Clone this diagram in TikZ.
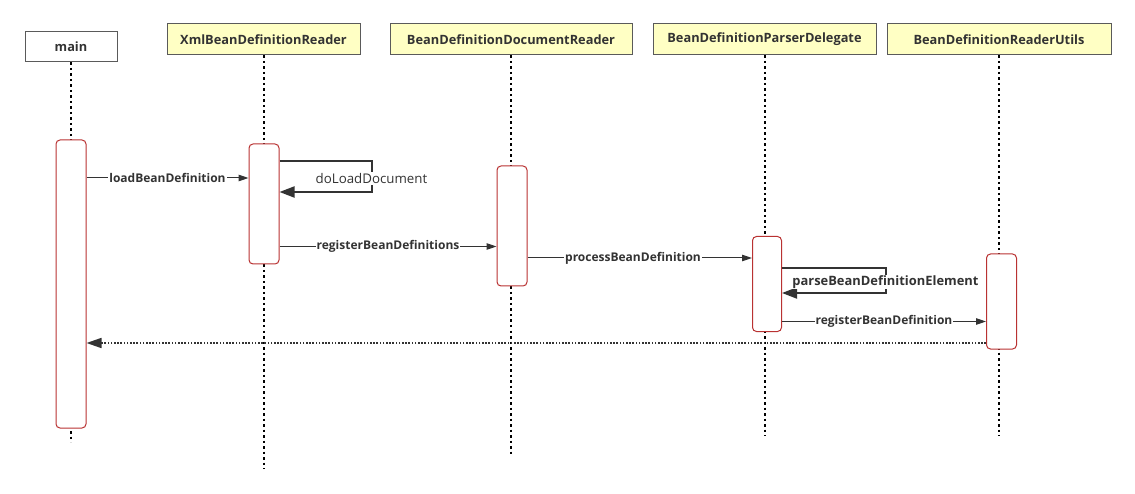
\documentclass[tikz,border=0pt]{standalone}
\usepackage{fontspec}
\setmainfont{Open Sans}
\usetikzlibrary{arrows.meta}
\definecolor{txt}{RGB}{51,51,51}
\definecolor{hdrfill}{RGB}{255,255,196}
\definecolor{hdrline}{RGB}{90,90,90}
\definecolor{actline}{RGB}{185,50,50}
\begin{document}
\begin{tikzpicture}[x=1pt,y=-1pt,
  hdr/.style={draw=hdrline, line width=1pt, fill=hdrfill, minimum height=31pt, inner sep=0pt,
    font=\fontsize{12.8}{14}\selectfont\bfseries, text=txt},
  act/.style={draw=actline, line width=1pt, fill=white, rounded corners=4pt, minimum width=30pt, inner sep=0pt},
  life/.style={draw=black, line width=2pt, dash pattern=on 2.5pt off 3pt},
  msg/.style={draw=txt, line width=1pt, -{Triangle[length=10pt,width=6.5pt]}},
  selfmsg/.style={draw=txt, line width=2pt, -{Triangle[length=15pt,width=11pt]}},
  ret/.style={draw=txt, line width=1.6pt, dash pattern=on 1.6pt off 1.6pt, -{Triangle[length=15pt,width=10pt]}},
  lbl/.style={fill=white, inner sep=1pt, text=txt, font=\fontsize{12}{14}\selectfont\bfseries},
  lblbig/.style={lbl, font=\fontsize{12.9}{15}\selectfont\bfseries},
  lblreg/.style={fill=white, inner sep=1pt, text=txt, font=\fontsize{13.3}{15}\selectfont}
]
\useasboundingbox (0,0) rectangle (1135,494);
% headers
\node[hdr, fill=white, minimum width=92pt, minimum height=30pt] (hmain) at (71,47) {main};
\node[hdr, minimum width=193pt] (hxml) at (263.5,39.5) {XmlBeanDefinitionReader};
\node[hdr, minimum width=242pt] (hdoc) at (511,39.5) {BeanDefinitionDocumentReader};
\node[hdr, minimum width=223pt] (hdel) at (764.5,39.5) {BeanDefinitionParserDelegate};
\node[hdr, minimum width=224pt] (hutl) at (999,39.5) {BeanDefinitionReaderUtils};
% lifelines
\draw[life] (hmain.south) -- (hmain.south |- 0,442);
\draw[life] (hxml.south) -- (hxml.south |- 0,469);
\draw[life] (hdoc.south) -- (hdoc.south |- 0,454);
\draw[life] (hdel.south) -- (hdel.south |- 0,436);
\draw[life] (hutl.south) -- (hutl.south |- 0,436);
% activations
\node[act, minimum height=288pt] (a1) at (71,284) {};
\node[act, minimum height=120pt] (a2) at (264,204) {};
\node[act, minimum height=120pt] (a3) at (512,226) {};
\node[act, minimum width=29pt, minimum height=95pt] (a4) at (767,284) {};
\node[act, minimum height=95pt] (a5) at (1001.5,301.5) {};
% messages
\draw[msg] (a1.east |- 0,178) -- node[lbl]{loadBeanDefinition} (a2.west |- 0,178);
\draw[selfmsg] (a2.east |- 0,161) -- (372,161) -- (372,192) -- (a2.east |- 0,192);
\node[lblreg] (ldoc) at (371.5,178.5) {doLoadDocument};
\draw[msg] (a2.east |- 0,246.5) -- node[lbl]{registerBeanDefinitions} (a3.west |- 0,246.5);
\draw[msg] (a3.east |- 0,258) -- node[lbl, pos=0.47]{processBeanDefinition} (a4.west |- 0,258);
\draw[selfmsg] (a4.east |- 0,268) -- (886,268) -- (886,293) -- (a4.east |- 0,293);
\node[lblbig] (lparse) at (885.5,282) {parseBeanDefinitionElement};
\draw[msg] (a4.east |- 0,321.5) -- node[lbl]{registerBeanDefinition} (a5.west |- 0,321.5);
\draw[ret] (a5.west |- 0,343) -- (a1.east |- 0,343);
\end{tikzpicture}
\end{document}
